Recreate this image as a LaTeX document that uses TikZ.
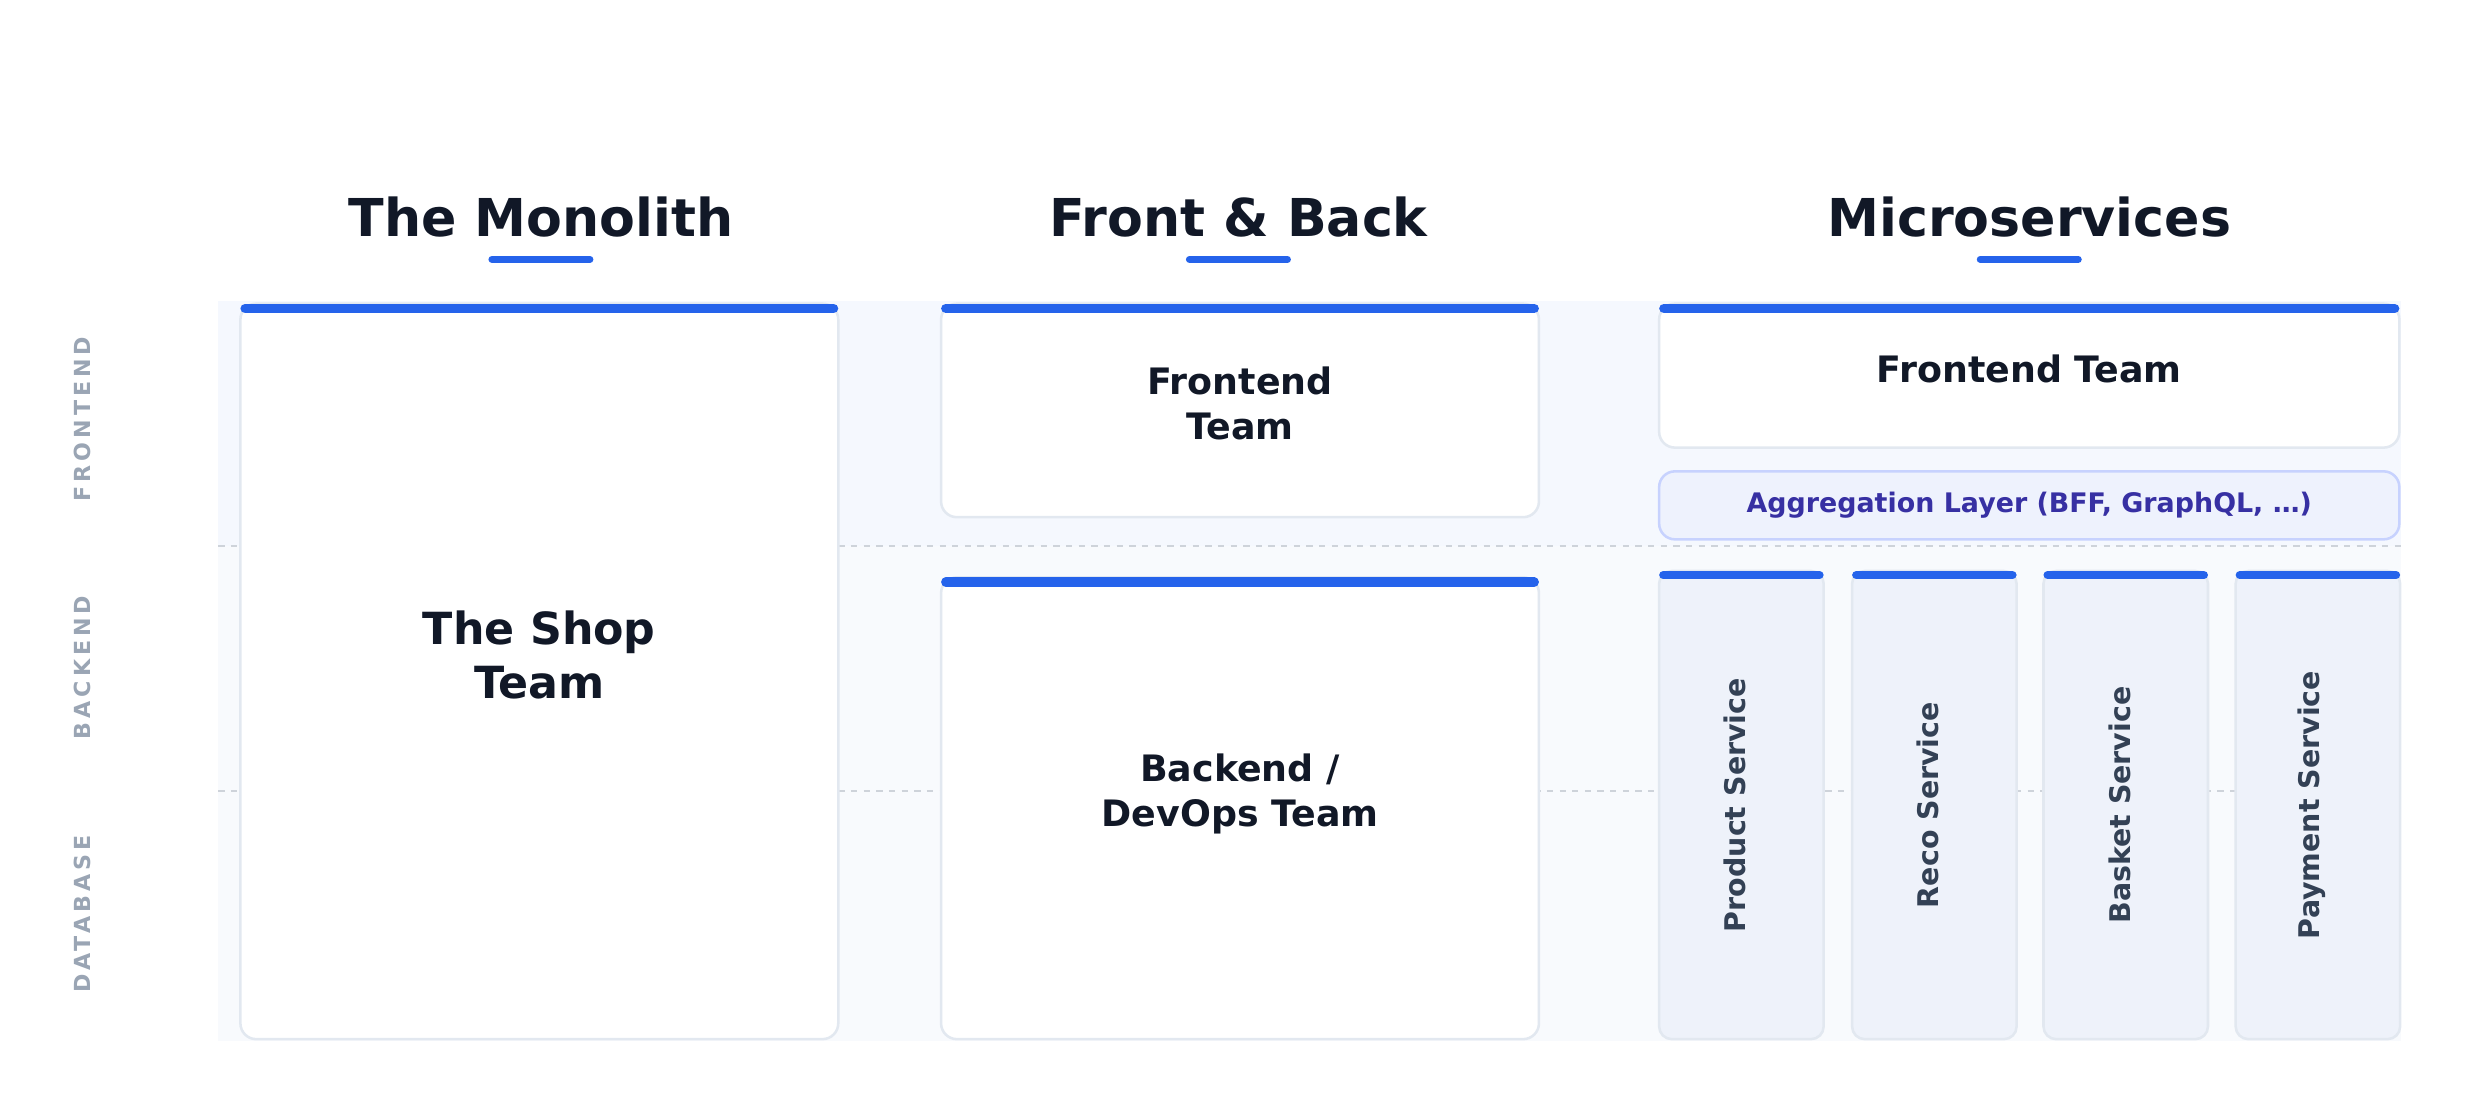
\documentclass[tikz,border=0pt]{standalone}
\usepackage{fontspec}
\setmainfont{DejaVu Sans}
\usetikzlibrary{positioning}
\definecolor{accent}{HTML}{2563EB}
\definecolor{ink}{HTML}{111827}
\definecolor{slate}{HTML}{334155}
\definecolor{edge}{HTML}{E2E8F0}
\definecolor{band}{HTML}{F8FAFD}
\definecolor{bandtop}{HTML}{F5F8FE}
\definecolor{aggfill}{HTML}{EEF2FD}
\definecolor{aggedge}{HTML}{C7D2FE}
\definecolor{aggtext}{HTML}{3730A3}
\definecolor{svcfill}{HTML}{EEF2FA}
\definecolor{lane}{HTML}{9AA5B4}

\begin{document}
\begin{tikzpicture}[x=0.5pt,y=-0.5pt,
    team/.style={rectangle, draw=edge, line width=0.8pt, fill=white,
        rounded corners=5pt, inner sep=0pt, outer sep=0pt,
        align=center, text=ink, font=\bfseries\fontsize{11.5}{14}\selectfont},
    service/.style={team, fill=svcfill, rounded corners=4pt},
    agg/.style={team, fill=aggfill, draw=aggedge, text=aggtext,
        font=\bfseries\fontsize{8.5}{10}\selectfont},
    title/.style={text=ink, font=\bfseries\fontsize{16.5}{20}\selectfont},
    lanelabel/.style={rotate=90, text=lane,
        font=\bfseries\fontsize{7}{8}\selectfont\addfontfeature{LetterSpace=18}},
    bar/.style={accent, line width=3pt, line cap=round},
    underline/.style={accent, line width=2.2pt, line cap=round},
    lanesep/.style={edge!80!gray, line width=0.6pt, dash pattern=on 2pt off 2pt},
  ]
  \useasboundingbox (0,0) rectangle (1568,708);

  % background bands
  \fill[band] (138,190) rectangle (1518,658);
  \fill[bandtop] (138,190) rectangle (1518,345);
  \draw[lanesep] (138,345) -- (1518,345);
  \draw[lanesep] (138,500) -- (1518,500);

  % lane labels
  \node[lanelabel] (lanefront) at (52,265) {FRONTEND};
  \node[lanelabel] (laneback) at (52,422) {BACKEND};
  \node[lanelabel] (lanedb) at (52,578) {DATABASE};

  % column titles
  \foreach \x/\t [count=\i] in {342/The Monolith, 783/Front \& Back, 1283/Microservices}{
    \node[title] (title\i) at (\x,137) {\t};
    \draw[underline] (\x-31,164) -- (\x+31,164);
  }

  % the monolith
  \node[team, minimum width=189pt, minimum height=232.5pt] (shop) at (341,424.5) {};
  \node[text=ink, align=center, font=\bfseries\fontsize{14}{17}\selectfont] (shoplabel) at (341,414) {The Shop\\Team};
  \draw[bar] ([xshift=1.5pt,yshift=-1.5pt]shop.north west) -- ([xshift=-1.5pt,yshift=-1.5pt]shop.north east);

  % front & back
  \node[team, minimum width=189pt, minimum height=67.5pt] (front) at (784,259.5) {};
  \node[text=ink, align=center, font=\bfseries\fontsize{11.5}{14}\selectfont] (frontlabel) at (784,255) {Frontend\\Team};
  \node[team, minimum width=189pt, minimum height=146pt] (back) at (784,511) {};
  \node[text=ink, align=center, font=\bfseries\fontsize{11.5}{14}\selectfont] (backlabel) at (784,502) {Backend /\\DevOps Team};
  \foreach \n in {front,back}
    \draw[bar] ([xshift=1.5pt,yshift=-1.5pt]\n.north west) -- ([xshift=-1.5pt,yshift=-1.5pt]\n.north east);

  % microservices
  \node[team, minimum width=234pt, minimum height=45.5pt] (msfront) at (1283,237.5) {};
  \node[text=ink, font=\bfseries\fontsize{11.5}{14}\selectfont] (msfrontlabel) at (1283,233) {Frontend Team};
  \draw[bar] ([xshift=1.5pt,yshift=-1.5pt]msfront.north west) -- ([xshift=-1.5pt,yshift=-1.5pt]msfront.north east);
  \node[agg, minimum width=234pt, minimum height=21.5pt] (agg) at (1283,319.5) {Aggregation Layer (BFF, GraphQL, …)};

  \foreach \x/\t [count=\i] in {1101/Product Service, 1223/Reco Service, 1344/Basket Service, 1465.5/Payment Service}{
    \node[service, minimum width=52pt, minimum height=148pt] (svc\i) at (\x,509) {};
    \node[rotate=90, text=slate, font=\bfseries\fontsize{9}{11}\selectfont] (svclabel\i) at ([xshift=-2pt]svc\i) {\t};
    \draw[bar, line width=2.6pt] ([xshift=1.3pt,yshift=-1.3pt]svc\i.north west) -- ([xshift=-1.3pt,yshift=-1.3pt]svc\i.north east);
  }
\end{tikzpicture}
\end{document}
